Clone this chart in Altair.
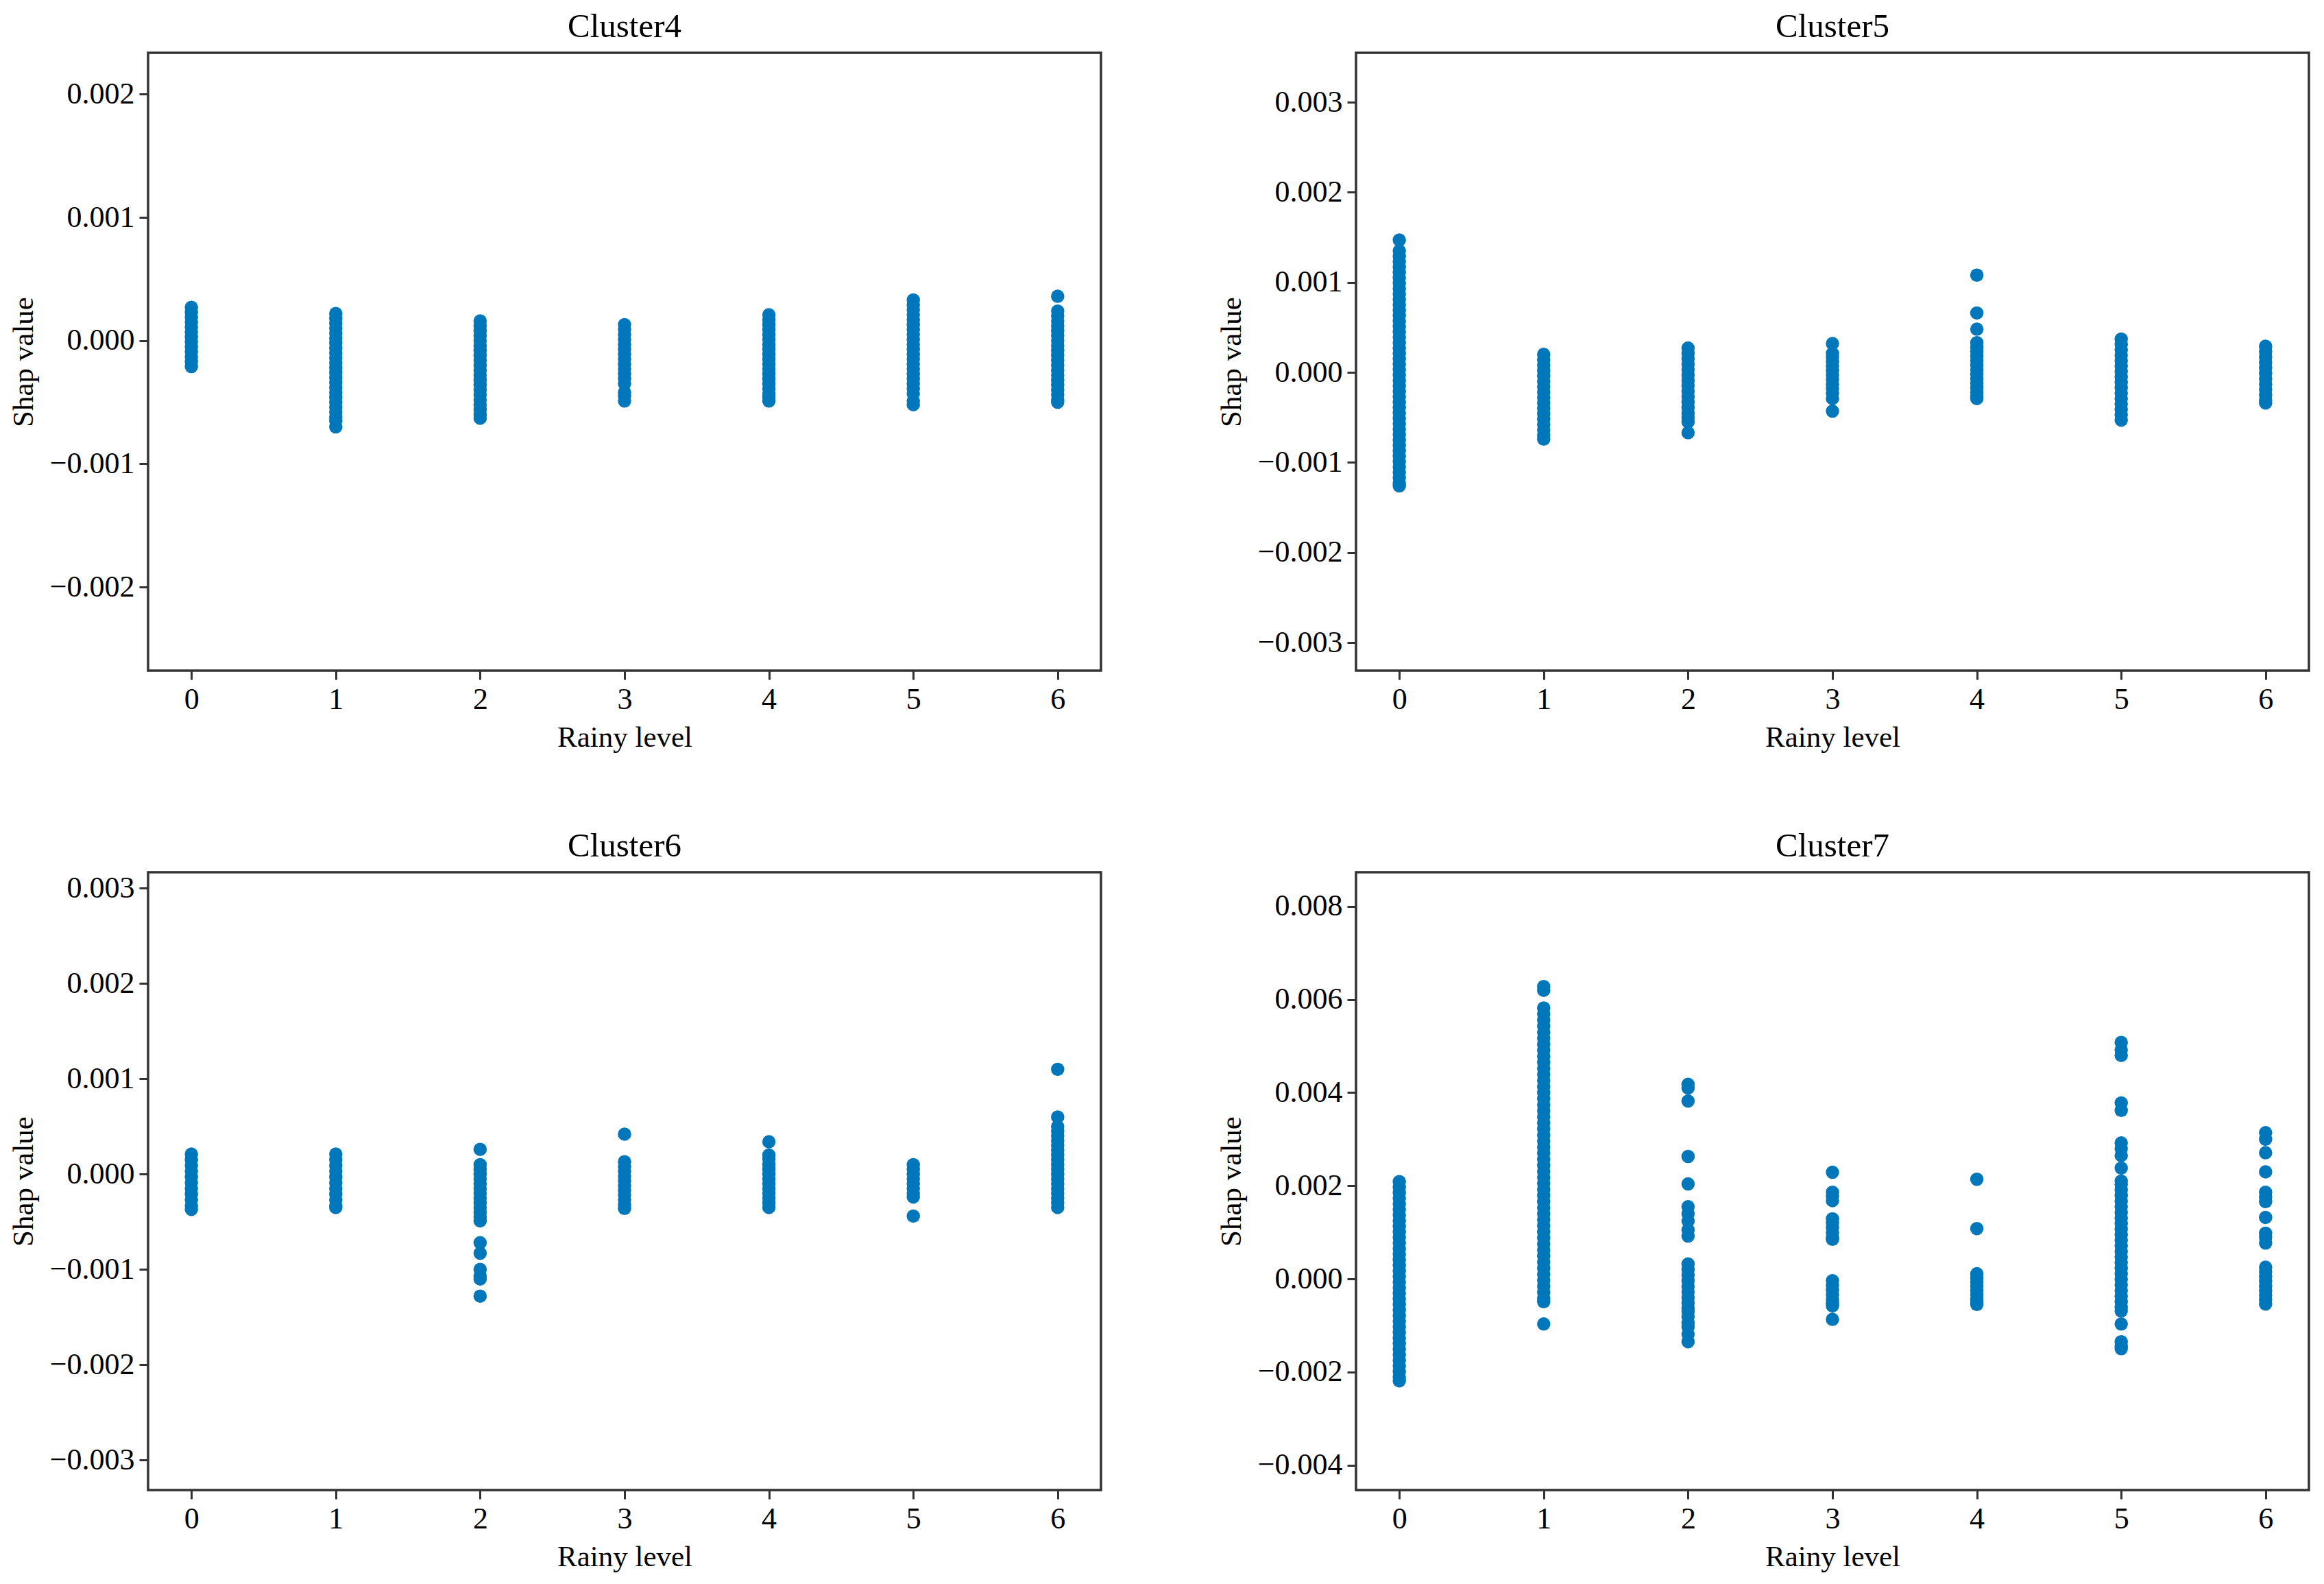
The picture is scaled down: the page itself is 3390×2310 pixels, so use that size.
import altair as alt
import pandas as pd

FONT = "Liberation Serif"
BLUE = "#0077BB"

LEVELS = [0, 1, 2, 3, 4, 5, 6]
LEVEL_TICKS = [0, 1, 2, 3, 4, 5, 6]

# SHAP values, one list per rainy level (0..6)
CLUSTER4 = [
    [2.7e-4, 2.3e-4, 1.9e-4, 1.5e-4, 1.1e-4, 0.7e-4, 0.3e-4, -0.1e-4, -0.5e-4, -0.9e-4, -1.3e-4, -1.7e-4, -2.1e-4],
    [2.2e-4, 1.8e-4, 1.4e-4, 1.0e-4, 0.6e-4, 0.2e-4, -0.2e-4, -0.6e-4, -1.0e-4, -1.4e-4, -1.8e-4, -2.2e-4, -2.6e-4,
     -3.0e-4, -3.4e-4, -3.8e-4, -4.2e-4, -4.6e-4, -5.0e-4, -5.4e-4, -5.8e-4, -6.2e-4, -6.5e-4, -7.0e-4],
    [1.6e-4, 1.2e-4, 0.8e-4, 0.4e-4, 0.0, -0.4e-4, -0.8e-4, -1.2e-4, -1.6e-4, -2.0e-4, -2.4e-4, -2.8e-4, -3.2e-4,
     -3.6e-4, -4.0e-4, -4.4e-4, -4.8e-4, -5.2e-4, -5.6e-4, -6.0e-4, -6.3e-4],
    [1.3e-4, 0.9e-4, 0.5e-4, 0.1e-4, -0.3e-4, -0.7e-4, -1.1e-4, -1.5e-4, -1.9e-4, -2.3e-4, -2.7e-4, -3.1e-4, -3.5e-4,
     -4.2e-4, -4.5e-4, -4.9e-4],
    [2.1e-4, 1.7e-4, 1.3e-4, 0.9e-4, 0.5e-4, 0.1e-4, -0.3e-4, -0.7e-4, -1.1e-4, -1.5e-4, -1.9e-4, -2.3e-4, -2.7e-4,
     -3.1e-4, -3.5e-4, -3.9e-4, -4.3e-4, -4.6e-4, -4.9e-4],
    [3.3e-4, 2.9e-4, 2.5e-4, 2.1e-4, 1.7e-4, 1.3e-4, 0.9e-4, 0.5e-4, 0.1e-4, -0.3e-4, -0.7e-4, -1.1e-4, -1.5e-4,
     -1.9e-4, -2.3e-4, -2.7e-4, -3.1e-4, -3.5e-4, -3.9e-4, -4.3e-4, -4.9e-4, -5.2e-4],
    [3.6e-4, 2.4e-4, 2.0e-4, 1.6e-4, 1.2e-4, 0.8e-4, 0.4e-4, 0.0, -0.4e-4, -0.8e-4, -1.2e-4, -1.6e-4, -2.0e-4,
     -2.4e-4, -2.8e-4, -3.2e-4, -3.6e-4, -4.0e-4, -4.4e-4, -4.8e-4, -5.0e-4],
]

CLUSTER5 = [
    [14.7e-4, 13.5e-4, 12.9e-4, 12.3e-4, 11.7e-4, 11.1e-4, 10.5e-4, 9.9e-4, 9.3e-4, 8.7e-4, 8.1e-4, 7.5e-4, 6.9e-4,
     6.3e-4, 5.7e-4, 5.1e-4, 4.5e-4, 3.9e-4, 3.3e-4, 2.7e-4, 2.1e-4, 1.5e-4, 0.9e-4, 0.3e-4, -0.3e-4, -0.9e-4,
     -1.5e-4, -2.1e-4, -2.7e-4, -3.3e-4, -3.9e-4, -4.5e-4, -5.1e-4, -5.7e-4, -6.3e-4, -6.9e-4, -7.5e-4, -8.1e-4,
     -8.7e-4, -9.3e-4, -9.9e-4, -10.5e-4, -11.1e-4, -11.7e-4, -12.3e-4, -12.6e-4],
    [2.0e-4, 1.4e-4, 0.8e-4, 0.2e-4, -0.4e-4, -1.0e-4, -1.6e-4, -2.2e-4, -2.8e-4, -3.4e-4, -4.0e-4, -4.6e-4,
     -5.2e-4, -5.8e-4, -6.4e-4, -7.0e-4, -7.4e-4],
    [2.7e-4, 2.1e-4, 1.5e-4, 0.9e-4, 0.3e-4, -0.3e-4, -0.9e-4, -1.5e-4, -2.1e-4, -2.7e-4, -3.3e-4, -3.9e-4,
     -4.5e-4, -5.0e-4, -5.5e-4, -6.7e-4],
    [3.2e-4, 2.1e-4, 1.7e-4, 1.2e-4, 0.7e-4, 0.2e-4, -0.3e-4, -0.8e-4, -1.3e-4, -1.8e-4, -2.3e-4, -2.9e-4, -4.3e-4],
    [10.8e-4, 6.6e-4, 4.8e-4, 3.3e-4, 2.8e-4, 2.3e-4, 1.8e-4, 1.3e-4, 0.8e-4, 0.3e-4, -0.2e-4, -0.7e-4, -1.2e-4,
     -1.7e-4, -2.2e-4, -2.6e-4, -2.9e-4],
    [3.7e-4, 3.1e-4, 2.5e-4, 1.9e-4, 1.3e-4, 0.7e-4, 0.1e-4, -0.5e-4, -1.1e-4, -1.7e-4, -2.3e-4, -2.9e-4, -3.5e-4,
     -4.1e-4, -4.7e-4, -5.3e-4],
    [2.9e-4, 2.3e-4, 1.7e-4, 1.1e-4, 0.5e-4, -0.1e-4, -0.7e-4, -1.3e-4, -1.9e-4, -2.5e-4, -3.1e-4, -3.4e-4],
]

CLUSTER6 = [
    [2.1e-4, 1.5e-4, 0.9e-4, 0.3e-4, -0.3e-4, -0.9e-4, -1.5e-4, -2.1e-4, -2.7e-4, -3.3e-4, -3.7e-4],
    [2.1e-4, 1.5e-4, 0.9e-4, 0.3e-4, -0.3e-4, -0.9e-4, -1.5e-4, -2.1e-4, -2.7e-4, -3.3e-4, -3.5e-4],
    [2.6e-4, 1.0e-4, 0.5e-4, 0.0, -0.5e-4, -1.0e-4, -1.5e-4, -2.0e-4, -2.5e-4, -3.0e-4, -3.5e-4, -4.0e-4,
     -4.5e-4, -4.9e-4, -7.2e-4, -8.3e-4, -10.0e-4, -10.7e-4, -11.0e-4, -12.8e-4],
    [4.2e-4, 1.3e-4, 0.8e-4, 0.3e-4, -0.2e-4, -0.7e-4, -1.2e-4, -1.7e-4, -2.2e-4, -2.7e-4, -3.2e-4, -3.6e-4],
    [3.4e-4, 2.0e-4, 1.6e-4, 1.0e-4, 0.5e-4, 0.0, -0.5e-4, -1.0e-4, -1.5e-4, -2.0e-4, -2.5e-4, -3.0e-4, -3.5e-4],
    [1.0e-4, 0.5e-4, 0.0, -0.5e-4, -1.0e-4, -1.5e-4, -2.0e-4, -2.4e-4, -4.4e-4],
    [11.0e-4, 6.0e-4, 5.0e-4, 4.5e-4, 4.0e-4, 3.5e-4, 3.0e-4, 2.5e-4, 2.0e-4, 1.5e-4, 1.0e-4, 0.5e-4, 0.0,
     -0.5e-4, -1.0e-4, -1.5e-4, -2.0e-4, -2.5e-4, -3.0e-4, -3.5e-4],
]

CLUSTER7 = [
    [20.9e-4, 19.7e-4, 18.5e-4, 17.3e-4, 16.1e-4, 14.9e-4, 13.7e-4, 12.5e-4, 11.3e-4, 10.1e-4, 8.9e-4, 7.7e-4,
     6.5e-4, 5.3e-4, 4.1e-4, 2.9e-4, 1.7e-4, 0.5e-4, -0.7e-4, -1.9e-4, -3.1e-4, -4.3e-4, -5.5e-4, -6.7e-4,
     -7.9e-4, -9.1e-4, -10.3e-4, -11.5e-4, -12.7e-4, -13.9e-4, -15.1e-4, -16.3e-4, -17.5e-4, -18.7e-4,
     -19.9e-4, -21.1e-4, -21.9e-4],
    [62.8e-4, 62.0e-4, 58.2e-4, 56.9e-4, 55.6e-4, 54.3e-4, 53.0e-4, 51.7e-4, 50.4e-4, 49.1e-4, 47.8e-4, 46.5e-4,
     45.2e-4, 43.9e-4, 42.6e-4, 41.3e-4, 40.0e-4, 38.7e-4, 37.4e-4, 36.1e-4, 34.8e-4, 33.5e-4, 32.2e-4, 30.9e-4,
     29.6e-4, 28.3e-4, 27.0e-4, 25.7e-4, 24.4e-4, 23.1e-4, 21.8e-4, 20.5e-4, 19.2e-4, 17.9e-4, 16.6e-4, 15.3e-4,
     14.0e-4, 12.7e-4, 11.4e-4, 10.1e-4, 8.8e-4, 7.5e-4, 6.2e-4, 4.9e-4, 3.6e-4, 2.3e-4, 1.0e-4, -0.3e-4,
     -1.6e-4, -2.9e-4, -4.2e-4, -4.9e-4, -9.7e-4],
    [41.8e-4, 41.0e-4, 38.2e-4, 26.3e-4, 20.4e-4, 15.5e-4, 14.0e-4, 12.4e-4, 10.5e-4, 9.2e-4, 3.2e-4, 2.0e-4,
     0.8e-4, -0.4e-4, -1.6e-4, -2.8e-4, -4.0e-4, -5.2e-4, -6.4e-4, -7.0e-4, -8.1e-4, -9.5e-4, -10.3e-4,
     -11.9e-4, -13.5e-4],
    [22.9e-4, 18.6e-4, 17.8e-4, 16.8e-4, 12.9e-4, 12.0e-4, 11.0e-4, 10.0e-4, 9.0e-4, 8.5e-4, -0.4e-4, -1.4e-4,
     -2.4e-4, -3.4e-4, -4.4e-4, -5.2e-4, -5.8e-4, -8.7e-4],
    [21.4e-4, 10.8e-4, 1.1e-4, 0.2e-4, -0.7e-4, -1.6e-4, -2.5e-4, -3.4e-4, -4.3e-4, -5.1e-4, -5.5e-4],
    [50.8e-4, 49.2e-4, 48.0e-4, 37.8e-4, 36.2e-4, 29.2e-4, 28.0e-4, 26.5e-4, 23.8e-4, 21.0e-4, 20.3e-4, 19.1e-4,
     17.9e-4, 16.7e-4, 15.5e-4, 14.3e-4, 13.1e-4, 11.9e-4, 10.7e-4, 9.5e-4, 8.3e-4, 7.1e-4, 5.9e-4, 4.7e-4,
     3.5e-4, 2.3e-4, 1.1e-4, -0.1e-4, -1.3e-4, -2.5e-4, -3.7e-4, -4.9e-4, -6.1e-4, -6.9e-4, -9.7e-4,
     -13.5e-4, -14.5e-4, -15.0e-4],
    [31.4e-4, 30.0e-4, 27.1e-4, 23.0e-4, 18.6e-4, 17.6e-4, 16.6e-4, 13.2e-4, 9.8e-4, 9.0e-4, 7.7e-4, 2.5e-4,
     1.5e-4, 0.5e-4, -0.5e-4, -1.5e-4, -2.5e-4, -3.5e-4, -4.5e-4, -5.4e-4],
]

PANELS = [
    ("Cluster4", CLUSTER4, [-0.002678, 0.002336], [-0.002, -0.001, 0.0, 0.001, 0.002]),
    ("Cluster5", CLUSTER5, [-0.003312, 0.003549], [-0.003, -0.002, -0.001, 0.0, 0.001, 0.002, 0.003]),
    ("Cluster6", CLUSTER6, [-0.003315, 0.003168], [-0.003, -0.002, -0.001, 0.0, 0.001, 0.002, 0.003]),
    ("Cluster7", CLUSTER7, [-0.004537, 0.008736], [-0.004, -0.002, 0.0, 0.002, 0.004, 0.006, 0.008]),
]


def panel(title, values, ydomain, yticks):
    rows = []
    for lvl, vals in zip(LEVELS, values):
        for v in vals:
            rows.append({"level": lvl, "shap": v})
    df = pd.DataFrame(rows)
    return (
        alt.Chart(df)
        .mark_circle(size=380, color=BLUE, opacity=1, clip=True)
        .encode(
            x=alt.X(
                "level:Q",
                scale=alt.Scale(domain=[-0.3, 6.3], nice=False, zero=False),
                axis=alt.Axis(values=LEVEL_TICKS, format="d", title="Rainy level", titlePadding=12),
            ),
            y=alt.Y(
                "shap:Q",
                scale=alt.Scale(domain=ydomain, nice=False, zero=False),
                axis=alt.Axis(values=yticks, format=".3f", title="Shap value"),
            ),
        )
        .properties(width=1390, height=901, title=title)
    )


charts = [panel(*p) for p in PANELS]

chart = (
    alt.ConcatChart(
        concat=charts,
        columns=2,
        spacing={"row": 294, "column": 372},
        bounds="flush",
    )
    .properties(padding={"left": 3, "top": 5, "right": 5, "bottom": 5})
    .configure(font=FONT)
    .configure_view(stroke="#333333", strokeWidth=3.5)
    .configure_axis(
        grid=False,
        domain=False,
        labelFont=FONT,
        labelFontSize=44,
        labelColor="#000000",
        labelPadding=7,
        tickColor="#333333",
        tickWidth=3,
        tickSize=13,
        titleFont=FONT,
        titleFontSize=43,
        titleFontWeight="normal",
        titleColor="#000000",
        titlePadding=16,
    )
    .configure_title(
        font=FONT,
        fontSize=49,
        fontWeight="normal",
        color="#000000",
        offset=13,
    )
)

chart.save("out.html", embed_options={"renderer": "svg", "actions": False})
